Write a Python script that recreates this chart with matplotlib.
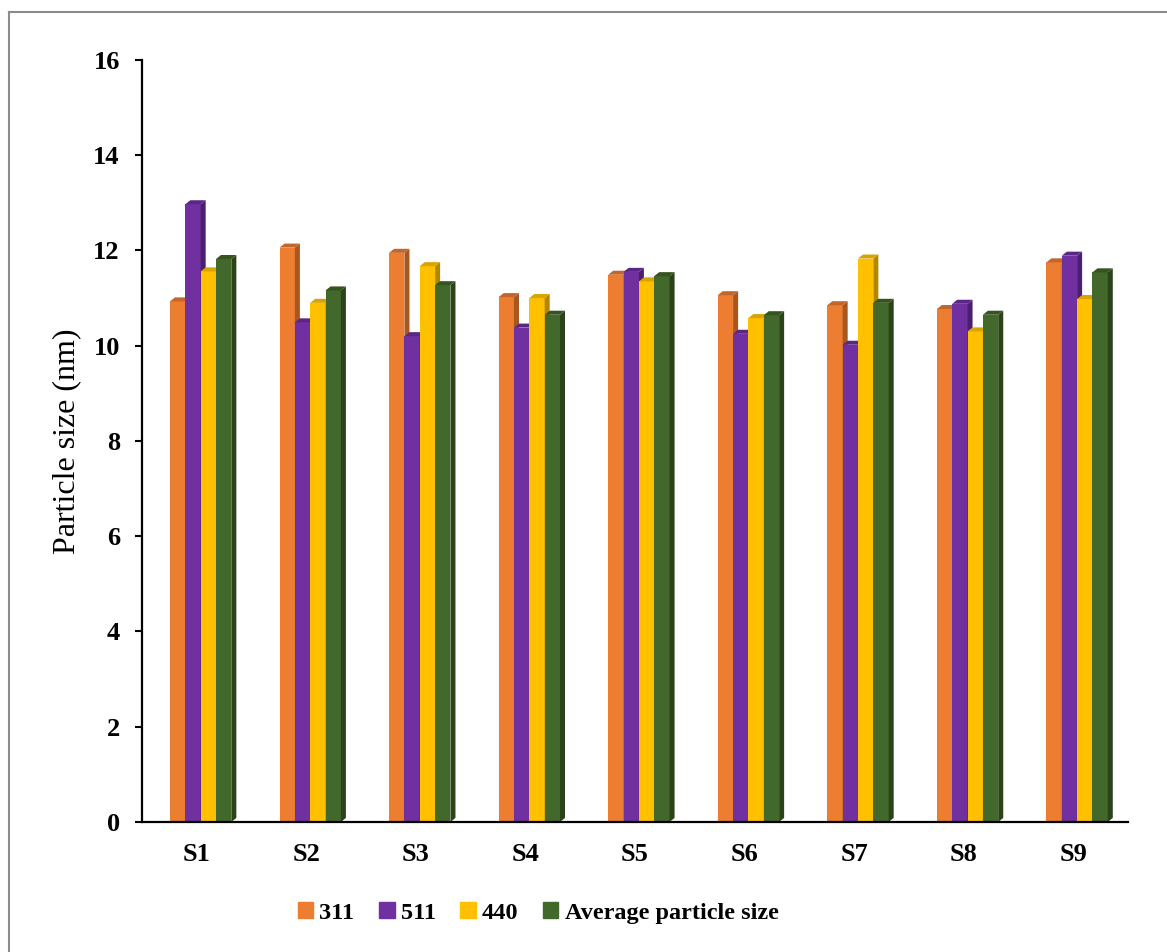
import numpy as np
import matplotlib.pyplot as plt
from matplotlib.patches import Polygon
from matplotlib.lines import Line2D

# particle size per sample, from the (311), (511), (440) peaks and their average
samples = ["S1", "S2", "S3", "S4", "S5", "S6", "S7", "S8", "S9"]
p311 = [10.93, 12.06, 11.95, 11.02, 11.49, 11.06, 10.85, 10.77, 11.75]
p511 = [12.97, 10.49, 10.20, 10.38, 11.55, 10.25, 10.02, 10.88, 11.89]
p440 = [11.56, 10.90, 11.67, 11.00, 11.35, 10.58, 11.83, 10.30, 10.98]
avg = [11.82, 11.16, 11.27, 10.65, 11.46, 10.64, 10.90, 10.65, 11.54]
names = ["311", "511", "440", "Average particle size"]

front = ["#ED7D31", "#7030A0", "#FFC000", "#43682B"]
side = ["#A9561F", "#4B1F70", "#B38600", "#2B4319"]
top = ["#C4652A", "#5A2787", "#D9A300", "#36541F"]

plt.rcParams['font.family'] = ['Liberation Serif', 'DejaVu Serif']

fig = plt.figure(figsize=(11.67, 9.52), dpi=100)
ax = fig.add_axes([0.1217, 0.1366, 0.8449, 0.8004])

x = np.arange(len(samples))
w = 0.14
offs = [-0.175, -0.035, 0.105, 0.245]
dx, dy = 0.046, 0.085   # depth of the fake 3d faces

for k, vals in enumerate([p311, p511, p440, avg]):
    x0 = x + offs[k] - w / 2
    ax.bar(x0, vals, width=w, align='edge', color=front[k], zorder=2 + k, label=names[k])
    for xl, h in zip(x0, vals):
        xr = xl + w
        ax.add_patch(Polygon([(xr, 0), (xr + dx, dy), (xr + dx, h + dy), (xr, h)],
                             closed=True, facecolor=side[k], edgecolor='none', zorder=2 + k))
        ax.add_patch(Polygon([(xl, h), (xl + dx, h + dy), (xr + dx, h + dy), (xr, h)],
                             closed=True, facecolor=top[k], edgecolor='none', zorder=2 + k))

ax.set_xlim(-0.5, len(samples) - 0.5)
ax.set_ylim(0, 16)
ax.set_yticks(np.arange(0, 17, 2))
ax.set_xticks(x)
ax.set_xticklabels(samples)

for s in ['top', 'right']:
    ax.spines[s].set_visible(False)
for s in ['left', 'bottom']:
    ax.spines[s].set_linewidth(1.6)
    ax.spines[s].set_zorder(10)

ax.tick_params(axis='y', length=5, width=1.5, pad=11, labelsize=19)
ax.tick_params(axis='x', length=0, pad=15, labelsize=19)
for lab in ax.get_xticklabels() + ax.get_yticklabels():
    lab.set_fontweight('bold')

ax.set_ylabel("Particle size (nm)", fontsize=23)
ax.yaxis.set_label_coords(-0.062, 0.5)

handles = [plt.Rectangle((0, 0), 1, 1, color=c) for c in front]
fig.legend(handles, names, loc='center', bbox_to_anchor=(0.461, 0.041), ncol=4,
           frameon=False, handlelength=0.65, handleheight=0.65, handletextpad=0.25,
           columnspacing=1.0, prop={'weight': 'bold', 'size': 17.5})

# grey frame on the left and top edges
fig.add_artist(Line2D([8.5 / 1167, 8.5 / 1167], [0, 1 - 11.5 / 952], color='#8c8c8c', lw=1.5))
fig.add_artist(Line2D([8.5 / 1167, 1], [1 - 11.5 / 952, 1 - 11.5 / 952], color='#8c8c8c', lw=1.5))

plt.savefig('out.png', dpi=100)
